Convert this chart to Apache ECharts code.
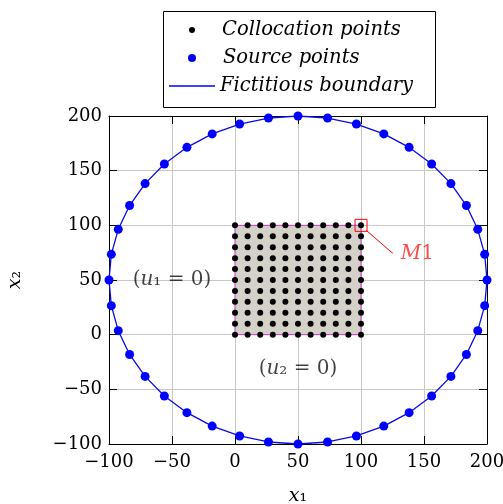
<!DOCTYPE html>
<html><head><meta charset="utf-8">
<script src="https://cdn.jsdelivr.net/npm/echarts@6/dist/echarts.min.js"></script>
<style>html,body{margin:0;padding:0;background:#fff}#c{width:503px;height:504px}</style>
</head><body><div id="c"></div>
<script>
// Source points on the fictitious boundary (40 points)
const sourceX = [200, 198.15, 192.66, 183.65, 171.35, 156.07, 138.17, 118.10, 96.35, 73.46,
  50, 26.54, 3.65, -18.10, -38.17, -56.07, -71.35, -83.65, -92.66, -98.15,
  -100, -98.15, -92.66, -83.65, -71.35, -56.07, -38.17, -18.10, 3.65, 26.54,
  50, 73.46, 96.35, 118.10, 138.17, 156.07, 171.35, 183.65, 192.66, 198.15];
const sourceY = [50, 73.46, 96.35, 118.10, 138.17, 156.07, 171.35, 183.65, 192.66, 198.15,
  200, 198.15, 192.66, 183.65, 171.35, 156.07, 138.17, 118.10, 96.35, 73.46,
  50, 26.54, 3.65, -18.10, -38.17, -56.07, -71.35, -83.65, -92.66, -98.15,
  -100, -98.15, -92.66, -83.65, -71.35, -56.07, -38.17, -18.10, 3.65, 26.54];
// Collocation grid
const collocX = [0, 10, 20, 30, 40, 50, 60, 70, 80, 90, 100];
const collocY = [0, 10, 20, 30, 40, 50, 60, 70, 80, 90, 100];
// Domain box corners
const boxStart = [0, 0];
const boxEnd = [100, 100];
// Marked point M1 and leader line
const markerPoint = [100, 100];
const leaderX = [104.5, 125.2];
const leaderY = [95.1, 74.4];
// Annotations
const annX = [-50, 50, 131.5];
const annY = [50, -31, 74];
const annText = ['{p|(}{i|u}{p|\u2081 = 0)}', '{p|(}{i|u}{p|\u2082 = 0)}', '{r|M}{q|1}'];
const legendNames = ['Collocation points', 'Source points', 'Fictitious boundary'];

const F = 'DejaVu Serif';
const source = sourceX.map((x, i) => [x, sourceY[i]]);
const boundary = source.concat([source[0]]);
const colloc = [];
collocY.forEach(y => collocX.forEach(x => colloc.push([x, y])));
const leader = leaderX.map((x, i) => [x, leaderY[i]]);
const minus = v => String(v).replace('-', '\u2212');

const labelStyle = {fontFamily: F, fontSize: 18, color: '#000'};
function mkAxis(pos, main, isX) {
  const a = {
    type: 'value', min: -100, max: 200, interval: 50, position: pos,
    axisLine: {show: true, onZero: false, lineStyle: {color: '#000', width: 1}},
    axisTick: {show: true, inside: true, length: 8, lineStyle: {color: '#000', width: 1}},
    axisLabel: main ? Object.assign({show: true, margin: isX ? 9 : 7, formatter: minus}, labelStyle) : {show: false},
    splitLine: {show: main, lineStyle: {color: '#c8c8c8', width: 1}}
  };
  if (main) {
    a.name = isX ? '{i|x}{n|\u2081}' : '{i|x}{n|\u2082}';
    a.nameLocation = 'middle';
    a.nameGap = isX ? 43 : 84;
    a.nameTextStyle = {rich: {
      i: {fontFamily: F, fontStyle: 'italic', fontSize: 19, color: '#000'},
      n: {fontFamily: F, fontSize: 19, color: '#000'}
    }};
  }
  return a;
}

const legText = {fontFamily: F, fontStyle: 'italic', fontSize: 19.5, color: '#000'};
const option = {
  animation: false,
  backgroundColor: '#fff',
  grid: {left: 109, right: 16, top: 116, bottom: 60, containLabel: false, outerBoundsMode: 'none'},
  xAxis: [mkAxis('bottom', true, true), mkAxis('top', false, true)],
  yAxis: [mkAxis('left', true, false), mkAxis('right', false, false)],
  legend: [
    {data: [{name: legendNames[0], icon: 'circle', itemStyle: {color: '#000'}}], left: 189, top: 20, padding: 0,
      itemWidth: 46, itemHeight: 6, selectedMode: false, textStyle: Object.assign({padding: [0, 0, 0, 2]}, legText)},
    {data: [{name: legendNames[1], icon: 'circle', itemStyle: {color: '#0000ff'}}], left: 188, top: 48, padding: 0,
      itemWidth: 46, itemHeight: 8, selectedMode: false, textStyle: Object.assign({padding: [0, 0, 0, 3]}, legText)},
    {data: [{name: legendNames[2], icon: 'rect', itemStyle: {color: '#0000ff'}}], left: 169, top: 76, padding: 0,
      itemWidth: 46, itemHeight: 1.5, selectedMode: false, textStyle: legText}
  ],
  graphic: [{type: 'rect', left: 161, top: 9, shape: {width: 272, height: 96},
    style: {fill: 'none', stroke: '#000', lineWidth: 1}, z: 10}],
  series: [
    {type: 'line', name: 'box', data: [boxStart, boxEnd], symbol: 'none', lineStyle: {width: 0, opacity: 0}, z: 1,
      markArea: {silent: true, itemStyle: {color: '#d4d2c8', borderColor: '#cc33cc', borderWidth: 1, opacity: 1},
        data: [[{coord: boxStart}, {coord: boxEnd}]]}},
    {type: 'line', name: legendNames[2], data: boundary, symbol: 'none', color: '#0a0ae6',
      lineStyle: {color: '#0a0ae6', width: 1.3}, z: 2},
    {type: 'scatter', name: legendNames[1], data: source, symbol: 'circle', symbolSize: 9,
      itemStyle: {color: '#0000ff', opacity: 1}, z: 3},
    {type: 'scatter', name: legendNames[0], data: colloc, symbol: 'circle', symbolSize: 6,
      itemStyle: {color: '#000', opacity: 1}, z: 4},
    {type: 'scatter', name: 'marker', data: [markerPoint], symbol: 'rect', symbolSize: 12,
      itemStyle: {color: 'transparent', borderColor: '#ff0000', borderWidth: 1, opacity: 1}, z: 5},
    {type: 'line', name: 'leader', data: leader, symbol: 'none', lineStyle: {color: '#ff0000', width: 1}, z: 5},
    {type: 'scatter', name: 'annot', symbolSize: 1, itemStyle: {color: 'transparent'}, z: 6,
      data: annX.map((x, i) => ({value: [x, annY[i]], label: {
        show: true, position: 'inside', align: i === 2 ? 'left' : 'center', verticalAlign: 'middle',
        formatter: annText[i],
        rich: {
          p: {fontFamily: F, fontSize: 20, color: '#111'},
          i: {fontFamily: F, fontSize: 20, fontStyle: 'italic', color: '#111'},
          r: {fontFamily: F, fontSize: 20, fontStyle: 'italic', color: '#ff2020'},
          q: {fontFamily: F, fontSize: 20, color: '#ff2020'}
        }}}))}
  ]
};
const chart = echarts.init(document.getElementById('c'));
chart.setOption(option);
</script>
</body></html>
